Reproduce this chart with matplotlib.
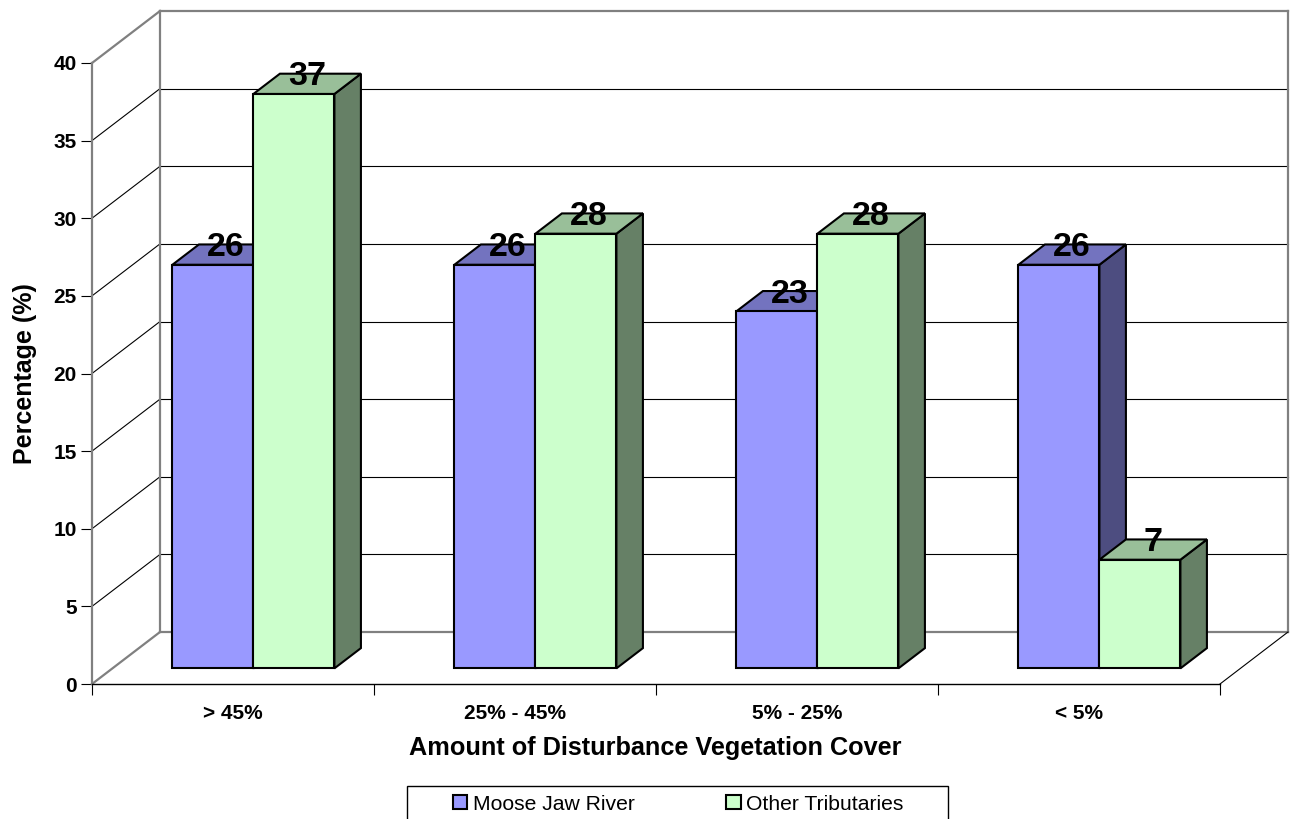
import matplotlib
matplotlib.use("Agg")
import matplotlib.pyplot as plt
from matplotlib.patches import Patch, Polygon, Rectangle

plt.rcParams['font.family'] = ['Liberation Sans', 'DejaVu Sans']

categorias = ["> 45%", "25% - 45%", "5% - 25%", "< 5%"]
moose_jaw = [26, 26, 23, 26]
outros = [37, 28, 28, 7]
y_ticks = [0, 5, 10, 15, 20, 25, 30, 35, 40]

W, H = 1291, 819
PRETO = "black"
CINZA = "#808080"

fig = plt.figure(figsize=(W / 100, H / 100), dpi=100, facecolor="white")
ax = fig.add_axes([92 / W, 1 - 684 / H, 1128 / W, 621 / H])
ax.set_xlim(0, 4)
ax.set_ylim(0, 40)

# depth of the 3D box, in data units
prof_x = 68 / 282
prof_y = 52 / 15.525


def proj(x, v, d):
    return (x + d * prof_x, v + d * prof_y)


# walls and floor
for v in y_ticks:
    cor = CINZA if v in (0, 40) else PRETO
    lw = 1.6 if v in (0, 40) else 0.8
    ax.plot(*zip(proj(0, v, 0), proj(0, v, 1)), color=cor, lw=lw, clip_on=False, zorder=2)
    ax.plot(*zip(proj(0, v, 1), proj(4, v, 1)), color=cor, lw=lw, clip_on=False, zorder=2)
ax.plot(*zip(proj(0, 0, 1), proj(0, 40, 1)), color=CINZA, lw=1.6, clip_on=False, zorder=2)
ax.plot(*zip(proj(4, 0, 1), proj(4, 40, 1)), color=CINZA, lw=1.6, clip_on=False, zorder=2)
ax.plot(*zip(proj(4, 0, 0), proj(4, 0, 1)), color=PRETO, lw=0.8, clip_on=False, zorder=2)


def barra(x0, x1, v, d0, d1, frente, topo, lado):
    estilo = dict(edgecolor=PRETO, lw=1.5, joinstyle="miter", clip_on=False, zorder=3)
    ax.add_patch(Polygon([proj(x1, 0, d0), proj(x1, 0, d1), proj(x1, v, d1), proj(x1, v, d0)],
                         facecolor=lado, **estilo))
    ax.add_patch(Polygon([proj(x0, v, d0), proj(x1, v, d0), proj(x1, v, d1), proj(x0, v, d1)],
                         facecolor=topo, **estilo))
    ax.add_patch(Polygon([proj(x0, 0, d0), proj(x1, 0, d0), proj(x1, v, d0), proj(x0, v, d0)],
                         facecolor=frente, **estilo))


largura = 81 / 282
d0, d1 = 0.30, 0.69
series = [
    (moose_jaw, -largura, "#9999FF", "#7373BF", "#4D4D80"),
    (outros, 0, "#CCFFCC", "#99BF99", "#668066"),
]
for valores, desl, frente, topo, lado in series:
    for i, v in enumerate(valores):
        x0 = i + 0.5 + desl
        barra(x0, x0 + largura, v, d0, d1, frente, topo, lado)

# data labels go on top of every bar
for valores, desl, frente, topo, lado in series:
    for i, v in enumerate(valores):
        x, y = proj(i + 0.5 + desl + largura / 2, v, (d0 + d1) / 2)
        ax.annotate(str(v), (x, y), xytext=(0, 5), textcoords="offset points", ha="center",
                    va="center", fontsize=24.5, fontweight="bold", color=PRETO,
                    annotation_clip=False, zorder=5)

# axes
for lado in ("top", "right"):
    ax.spines[lado].set_visible(False)
ax.spines["left"].set_color(CINZA)
ax.spines["left"].set_linewidth(1.6)
ax.spines["bottom"].set_color(PRETO)
ax.spines["bottom"].set_linewidth(1.0)
ax.patch.set_visible(False)

ax.set_yticks(y_ticks)
ax.tick_params(axis="y", length=8, width=0.8, pad=3, labelsize=15)
for t in ax.get_yticklabels():
    t.set_fontweight("bold")

ax.set_xticks(range(5))
ax.set_xticklabels([])
ax.tick_params(axis="x", which="major", length=8, width=0.8, color=PRETO)
ax.set_xticks([i + 0.5 for i in range(4)], minor=True)
ax.set_xticklabels(categorias, minor=True, fontsize=15, fontweight="bold")
ax.tick_params(axis="x", which="minor", length=0, pad=14.5)

ax.set_xlabel("Amount of Disturbance Vegetation Cover", fontsize=18.2, fontweight="bold", va="center")
ax.xaxis.set_label_coords((655 - 92) / 1128, -(748 - 684) / 621)
ax.set_ylabel("Percentage (%)", fontsize=18, fontweight="bold", va="center")
ax.yaxis.set_label_coords((25 - 92) / 1128, (684 - 374) / 621)

# legend box runs past the bottom of the figure
fig.add_artist(Rectangle((407 / W, -20 / H), 541 / W, (H - 786 + 20) / H, transform=fig.transFigure,
                         facecolor="white", edgecolor=PRETO, lw=1.0))
alcas = [Patch(facecolor="#9999FF", edgecolor=PRETO, lw=1.5, label="Moose Jaw River"),
         Patch(facecolor="#CCFFCC", edgecolor=PRETO, lw=1.5, label="Other Tributaries")]
fig.legend(handles=alcas, loc="center left", bbox_to_anchor=(453 / W, 1 - 804 / H), ncol=2,
           frameon=False, fontsize=15.2, borderpad=0, borderaxespad=0, handlelength=0.68,
           handleheight=0.68, handletextpad=0.25, columnspacing=4.35)

fig.savefig("out.png", dpi=100)
